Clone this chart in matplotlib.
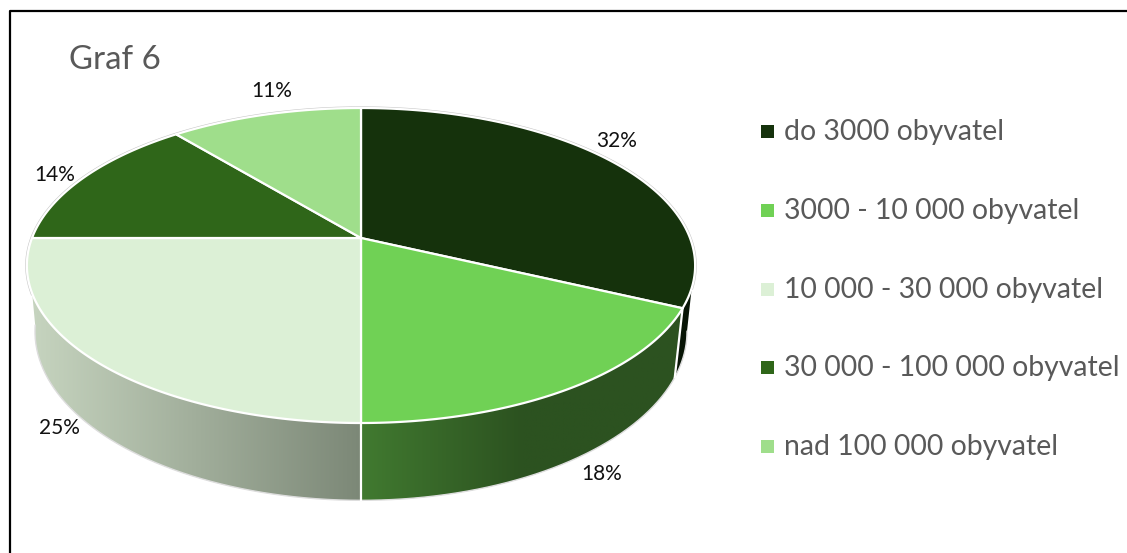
import numpy as np
import matplotlib
matplotlib.use('Agg')
import matplotlib.pyplot as plt
from matplotlib.colors import LinearSegmentedColormap
from matplotlib.patches import Polygon, Rectangle

# data
kategorie = ['do 3000 obyvatel', '3000 - 10 000 obyvatel', '10 000 - 30 000 obyvatel',
             '30 000 - 100 000 obyvatel', 'nad 100 000 obyvatel']
hodnoty = [32, 18, 25, 14, 11]
barvy = ['#15320c', '#70d155', '#dcf0d6', '#2f6619', '#9fde8b']
titulek = 'Graf 6'
popisky = ['32%', '18%', '25%', '14%', '11%']

# pixel layout of the figure (text positions are baselines)
popisky_xy = [(617, 147), (602, 480), (59, 434), (55, 181), (272, 97)]
cx, cy = 361, 238
legenda_y = [131, 210, 289, 367, 446]

# side wall gradients, left to right
stena_1 = ['#081506', '#081506']
stena_2 = ['#417a30', '#2c5220', '#2c5220']
stena_3 = ['#c6d4bf', '#7c8877']


def horni(t):
    """Top rim of the pie, t = clockwise angle from 12 o'clock."""
    u, v = np.sin(t), np.cos(t)
    w = 1 + 0.1746 * v
    return cx + 329 * u / w, cy - 152.7 * v / w


def dolni(t):
    """Bottom rim of the pie."""
    u, v = np.sin(t), np.cos(t)
    w = 1 + 0.1746 * v
    return cx + 321 * u / w, cy + 64 - 163.7 * v / w


plt.rcParams['font.family'] = ['Lato', 'DejaVu Sans']

fig = plt.figure(figsize=(11.27, 5.53), dpi=100)
ax = fig.add_axes([0, 0, 1, 1])
ax.axis('off')

# frame: only top and left lines are in the picture
ax.plot([1127, 9.5, 9.5], [11, 11, 553], color='black', lw=1.6, zorder=1)

hrany = np.cumsum([0] + hodnoty) / sum(hodnoty) * 2 * np.pi

# side walls: only slices 1, 2, 3 are visible
# (top rim range, bottom rim range differ at the silhouette ends)
viditelne = [((np.radians(108), hrany[1]), (np.radians(100), hrany[1]), stena_1),
             ((hrany[1], hrany[2]), (hrany[1], hrany[2]), stena_2),
             ((hrany[2], np.radians(250)), (hrany[2], np.radians(262)), stena_3)]
for rozsah_h, rozsah_d, barvy_steny in viditelne:
    xh, yh = horni(np.linspace(*rozsah_h, 200))
    xd, yd = dolni(np.linspace(*rozsah_d, 200))
    body = np.c_[np.r_[xh, xd[::-1]], np.r_[yh, yd[::-1]]]
    x_l, x_p = body[:, 0].min(), body[:, 0].max()
    y_h, y_d = body[:, 1].min(), body[:, 1].max()
    cmap = LinearSegmentedColormap.from_list('stena', barvy_steny)
    obr = ax.imshow(np.linspace(0, 1, 256).reshape(1, -1), cmap=cmap, aspect='auto',
                    extent=(x_l, x_p, y_d, y_h), zorder=2)
    obr.set_clip_path(Polygon(body, transform=ax.transData))
    ax.plot(xd, yd, color='#dddddd', lw=1.0, zorder=3)

ax.set_xlim(0, 1127)
ax.set_ylim(553, 0)

# white seams between the walls
for t in (hrany[1], hrany[2]):
    xh, yh = horni(t)
    xd, yd = dolni(t)
    ax.plot([xh, xd], [yh, yd], color='white', lw=1.6, zorder=4)

# thin grey outline around the back of the top face
tt = np.radians(np.linspace(250, 468, 300))
xh, yh = horni(tt)
ax.plot(xh, yh, color='#c8c8c8', lw=2.4, zorder=4)

# top face
for i in range(len(hodnoty)):
    tt = np.linspace(hrany[i], hrany[i + 1], 120)
    xh, yh = horni(tt)
    ax.fill(np.r_[cx, xh], np.r_[cy, yh], facecolor=barvy[i], edgecolor='white', lw=1.6,
            joinstyle='round', zorder=5)

for (x, y), txt in zip(popisky_xy, popisky):
    ax.text(x, y, txt, ha='center', va='baseline', fontsize=15, color='#111111', zorder=6)

ax.text(69, 69, titulek, ha='left', va='baseline', fontsize=23.8, color='#595959')

# legend
for y, txt, barva in zip(legenda_y, kategorie, barvy):
    ax.add_patch(Rectangle((761, y - 6.5), 13, 13, fc=barva, ec='none'))
    ax.text(784, y + 9, txt, ha='left', va='baseline', fontsize=20.4, color='#595959')

fig.savefig('out.png', dpi=100)
